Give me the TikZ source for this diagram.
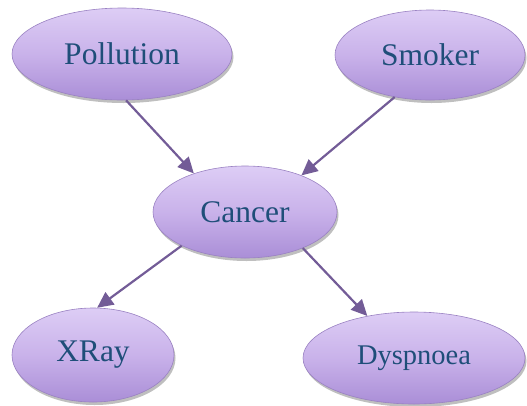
\documentclass[tikz,border=0pt]{standalone}
\usepackage{fontspec}
\setmainfont{Liberation Serif}
\usetikzlibrary{arrows.meta,shadows,shapes.geometric}
\definecolor{labelblue}{HTML}{1F4E79}
\definecolor{edgepurple}{HTML}{735C97}
\definecolor{nodetop}{HTML}{DDCDF5}
\definecolor{nodemid}{HTML}{C9B2EA}
\definecolor{nodebot}{HTML}{AA8ED7}
\definecolor{nodeline}{HTML}{9A82C2}
\tikzset{
  bnode/.style={ellipse, inner sep=0pt, draw=nodeline, line width=0.6pt,
    top color=nodetop, bottom color=nodebot, middle color=nodemid,
    text=labelblue, font=\fontsize{31.5}{36}\selectfont,
    drop shadow={shadow xshift=1.5pt, shadow yshift=-3pt, opacity=0.25, fill=black}},
  link/.style={draw=edgepurple, line width=2.2pt,
    -{Triangle[length=16pt,width=15pt]}},
}
\begin{document}
\begin{tikzpicture}[x=1pt,y=-1pt]
  \useasboundingbox (0,0) rectangle (527,405);
  \node[bnode, minimum width=220pt, minimum height=92pt] (poll) at (122,54) {Pollution};
  \node[bnode, minimum width=190pt, minimum height=90pt] (smok) at (430,55) {Smoker};
  \node[bnode, minimum width=184pt, minimum height=92pt] (canc) at (245,212) {Cancer};
  \node[bnode, minimum width=162pt, minimum height=94pt] (xray) at (93,355) {XRay};
  \node[bnode, minimum width=222pt, minimum height=92pt, font=\fontsize{28.5}{33}\selectfont] (dysp) at (414,358) {Dyspnoea};
  \draw[link] (poll.-85) -- (canc.143);
  \draw[link] (smok.-130) -- (canc.33);
  \draw[link] (canc.208) -- (xray.85);
  \draw[link] (canc.-32) -- (dysp.138);
\end{tikzpicture}
\end{document}
